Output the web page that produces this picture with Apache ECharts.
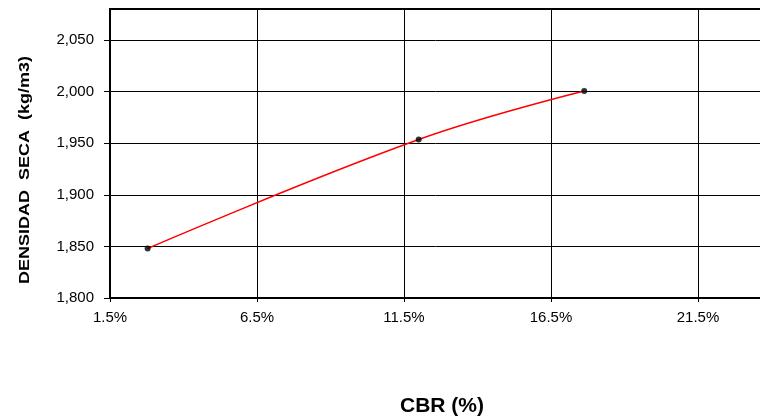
<!DOCTYPE html>
<html>
<head>
<meta charset="utf-8">
<script src="https://cdn.jsdelivr.net/npm/echarts@6/dist/echarts.min.js"></script>
<style>
html, body { margin: 0; padding: 0; background: #fff; }
#chart { width: 760px; height: 420px; }
</style>
</head>
<body>
<div id="chart"></div>
<script>
// CBR test results: dry density against CBR value
const cbrValues = [2.78, 12.0, 17.63];          // CBR (%)
const dryDensity = [1848, 1953.5, 2000.5];      // kg/m3
const xTicks = [1.5, 6.5, 11.5, 16.5, 21.5, 26.5];
const yTicks = [1800, 1850, 1900, 1950, 2000, 2050];

const points = cbrValues.map((x, i) => [x, dryDensity[i]]);
const FONT = 'Liberation Sans, Arial, sans-serif';

const chart = echarts.init(document.getElementById('chart'), null, { renderer: 'canvas' });
chart.setOption({
  animation: false,
  backgroundColor: '#ffffff',
  grid: {
    left: 110, top: 9, right: -85, bottom: 122,
    containLabel: false, outerBoundsMode: 'none',
    show: true, borderColor: '#000', borderWidth: 2, backgroundColor: 'transparent'
  },
  xAxis: {
    type: 'value',
    min: xTicks[0], max: xTicks[xTicks.length - 1], interval: 5,
    axisLine: { show: true, lineStyle: { color: '#000', width: 2 } },
    axisTick: { show: true, length: 4, lineStyle: { color: '#000' } },
    axisLabel: {
      color: '#000', fontFamily: FONT, fontSize: 15, margin: 12,
      formatter: v => v.toFixed(1) + '%'
    },
    splitLine: { show: true, lineStyle: { color: '#000', width: 1 } }
  },
  yAxis: {
    type: 'value',
    min: yTicks[0], max: 2080, interval: 50,
    axisLine: { show: true, lineStyle: { color: '#000', width: 2 } },
    axisTick: { show: true, length: 6, lineStyle: { color: '#000' } },
    axisLabel: {
      color: '#000', fontFamily: FONT, fontSize: 15, margin: 16,
      showMaxLabel: false,
      formatter: v => yTicks.includes(v) ? v.toLocaleString('en-US') : ''
    },
    splitLine: { show: true, lineStyle: { color: '#000', width: 1 } }
  },
  graphic: [
    {
      type: 'text', x: 442, y: 406,
      style: {
        text: 'CBR (%)', font: 'bold 21px ' + FONT, fill: '#000',
        align: 'center', verticalAlign: 'middle'
      }
    },
    {
      type: 'text', x: 25, y: 170, rotation: Math.PI / 2, scaleX: 1.2,
      style: {
        text: 'DENSIDAD  SECA  (kg/m3)', font: 'bold 15px ' + FONT, fill: '#000',
        align: 'center', verticalAlign: 'middle'
      }
    }
  ],
  series: [
    {
      type: 'line', data: points, smooth: 0.4,
      showSymbol: false, symbol: 'none',
      lineStyle: { color: '#ff0000', width: 1.5 }, z: 2
    },
    {
      type: 'scatter', data: points, symbol: 'circle', symbolSize: 6,
      itemStyle: { color: '#000' }, z: 3
    }
  ]
});
</script>
</body>
</html>
